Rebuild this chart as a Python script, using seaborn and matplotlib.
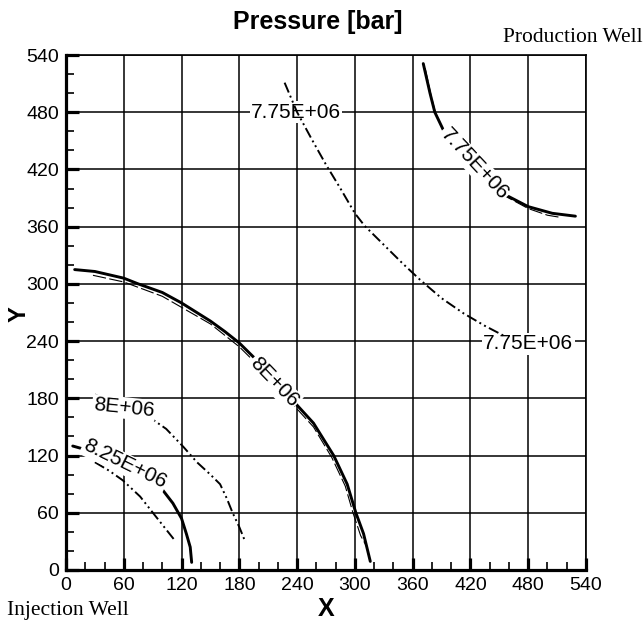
import numpy as np
import pandas as pd
import matplotlib
matplotlib.use("Agg")
import matplotlib.pyplot as plt
from matplotlib.ticker import MultipleLocator
import seaborn as sns

# ---- contour lines (x, y in grid units) ----
# solid: case A, dash-dot-dot: case B, thin dashed: case A (refined)
a_825_x = [7, 35, 59, 80, 98, 111, 120, 125, 129, 130.5]
a_825_y = [130, 122, 112, 101, 87, 70, 54, 38, 24, 8]

a_800_x = [9, 30, 60, 75, 100, 120, 150, 165, 180, 200, 220, 238, 257, 278, 292, 301, 309, 316]
a_800_y = [315, 313, 306, 300, 291, 280, 261, 250, 238, 218, 196, 175, 154, 120, 90, 60, 38, 9]

a_775_x = [371, 378, 383, 392, 405, 420, 437, 457, 480, 505, 529]
a_775_y = [531, 500, 480, 461, 442, 425, 409, 393, 381, 374, 371]

r_800_x = [28, 60, 100, 150, 180, 210, 238, 257, 276, 290, 298, 306, 312]
r_800_y = [309, 302, 287, 258, 234, 204, 171, 150, 118, 88, 60, 36, 25]

r_775_x = [373, 379, 384, 393, 406, 421, 438, 458, 480, 500, 512]
r_775_y = [526, 498, 478, 459, 440, 423, 407, 391, 379, 372, 370]

b_825_x = [30, 45, 59, 77, 91, 102, 113]
b_825_y = [113, 104, 94, 77, 59, 45, 31]

b_800_x = [30, 45, 60, 84, 104, 122, 136, 150, 160, 167, 173, 180, 186]
b_800_y = [184, 177, 170, 162, 148, 129, 113, 100, 90, 75, 60, 45, 30]

b_775_x = [227, 240, 255, 270, 285, 300, 310, 330, 350, 368, 390, 413, 435, 454]
b_775_y = [511, 480, 452, 425, 400, 374, 361, 341, 321, 304, 285, 269, 256, 246]

# ---- contour labels: text, x, y, rotation ----
label_text = ["8.25E+06", "8E+06", "7.75E+06", "8E+06", "7.75E+06", "7.75E+06"]
label_x = [61, 216, 424, 60, 239, 480]
label_y = [111, 197, 426, 170, 480, 237]
label_rot = [-26, -46, -47, -6, 0, 0]

ticks = list(range(0, 541, 60))

sns.set_theme(style="white")
plt.rcParams["font.family"] = ["Liberation Sans", "DejaVu Sans"]
plt.rcParams["text.color"] = "black"
plt.rcParams["axes.labelcolor"] = "black"

fig = plt.figure(figsize=(6.43, 6.21), dpi=100)
ax = fig.add_axes([66 / 643, 1 - 570 / 621, 520 / 643, 515 / 621])

solid_kw = dict(color="black", lw=2.1, sort=False, estimator=None, zorder=2)
thin_kw = dict(color="black", lw=0.8, sort=False, estimator=None, zorder=2,
               linestyle=(0, (12, 3)))
dd_kw = dict(color="black", lw=1.4, sort=False, estimator=None,
             linestyle=(0, (5.5, 1.8, 1.0, 1.8, 1.0, 1.8)))

def draw(xs, ys, **kw):
    df = pd.DataFrame({"x": xs, "y": ys})
    sns.lineplot(data=df, x="x", y="y", ax=ax, **kw)

draw(r_800_x, r_800_y, **thin_kw)
draw(r_775_x, r_775_y, **thin_kw)
draw(a_825_x, a_825_y, **solid_kw)
draw(a_800_x, a_800_y, **solid_kw)
draw(a_775_x, a_775_y, **solid_kw)
draw(b_825_x, b_825_y, zorder=2, **dd_kw)
draw(b_800_x, b_800_y, zorder=2, **dd_kw)
draw(b_775_x, b_775_y, zorder=4, **dd_kw)

for t, x, y, r in zip(label_text, label_x, label_y, label_rot):
    ax.text(x, y, t, rotation=r, rotation_mode="anchor", ha="center", va="center",
            fontsize=15, color="black", zorder=3,
            bbox=dict(boxstyle="square,pad=0.06", fc="white", ec="none"))

ax.set_xlim(0, 540)
ax.set_ylim(0, 540)
ax.set_xticks(ticks)
ax.set_yticks(ticks)
ax.xaxis.set_minor_locator(MultipleLocator(20))
ax.yaxis.set_minor_locator(MultipleLocator(20))
ax.grid(True, which="major", color="black", lw=1.1, zorder=0.5)
ax.set_axisbelow(True)

for side in ("left", "bottom"):
    ax.spines[side].set_linewidth(2.3)
    ax.spines[side].set_color("black")
for side in ("top", "right"):
    ax.spines[side].set_linewidth(1.2)
    ax.spines[side].set_color("black")

ax.tick_params(which="major", direction="in", length=9, width=2.3, color="black",
               labelsize=14, labelcolor="black", pad=5,
               bottom=True, left=True, top=False, right=False)
ax.tick_params(which="minor", direction="in", length=6, width=1.2, color="black",
               bottom=True, left=True, top=False, right=False)

ax.set_xlabel("X", fontsize=18, fontweight="bold", labelpad=2, color="black")
ax.set_ylabel("")
fig.text(19 / 643, 1 - 314 / 621, "Y", rotation=90, ha="center", va="center",
         fontsize=17, fontweight="bold", color="black")

fig.text(0.494, 0.965, "Pressure [bar]", ha="center", va="center",
         fontsize=18, fontweight="bold", color="black")
fig.text(503 / 643, 1 - 37 / 621, "Production Well", ha="left", va="center",
         fontsize=15.5, family=["Liberation Serif"], color="black")
fig.text(7 / 643, 1 - 611 / 621, "Injection Well", ha="left", va="center",
         fontsize=15.5, family=["Liberation Serif"], color="black")

fig.savefig("out.png", dpi=100, facecolor="white")
